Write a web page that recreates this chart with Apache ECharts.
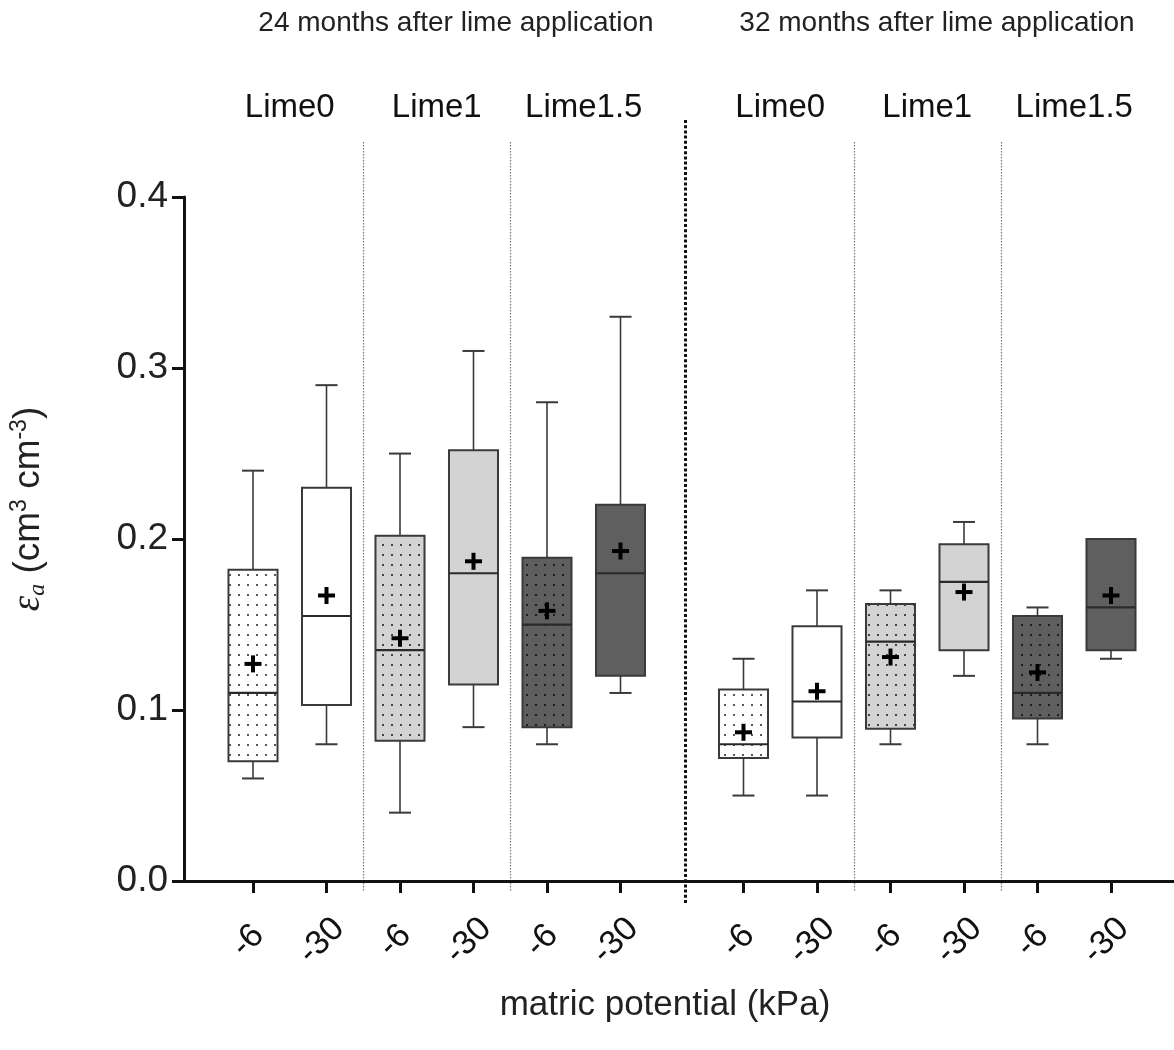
<!DOCTYPE html>
<html><head><meta charset="utf-8">
<script src="https://cdn.jsdelivr.net/npm/echarts@6/dist/echarts.min.js"></script>
<style>html,body{margin:0;padding:0;background:#fff}#chart{width:1174px;height:1050px}</style>
</head><body><div id="chart"></div>
<script>
// ---------- data ----------
const potentials = ['-6', '-30', '-6', '-30', '-6', '-30'];
const limeLevels = ['Lime0', 'Lime1', 'Lime1.5'];
const periods = ['24 months after lime application', '32 months after lime application'];
const yTicks = [0, 0.1, 0.2, 0.3, 0.4];

// 24 months after lime application
const min24  = [0.06, 0.08, 0.04, 0.09, 0.08, 0.11];
const q1_24  = [0.07, 0.103, 0.082, 0.115, 0.09, 0.12];
const med24  = [0.11, 0.155, 0.135, 0.18, 0.15, 0.18];
const q3_24  = [0.182, 0.23, 0.202, 0.252, 0.189, 0.22];
const max24  = [0.24, 0.29, 0.25, 0.31, 0.28, 0.33];
const mean24 = [0.127, 0.167, 0.142, 0.187, 0.158, 0.193];

// 32 months after lime application
const min32  = [0.05, 0.05, 0.08, 0.12, 0.08, 0.13];
const q1_32  = [0.072, 0.084, 0.089, 0.135, 0.095, 0.135];
const med32  = [0.08, 0.105, 0.14, 0.175, 0.11, 0.16];
const q3_32  = [0.112, 0.149, 0.162, 0.197, 0.155, 0.2];
const max32  = [0.13, 0.17, 0.17, 0.21, 0.16, 0.2];
const mean32 = [0.087, 0.111, 0.131, 0.169, 0.122, 0.167];

// ---------- styles ----------
function dotPattern(bg, dot) {
  const c = document.createElement('canvas');
  c.width = 9; c.height = 10;
  const g = c.getContext('2d');
  g.fillStyle = bg; g.fillRect(0, 0, 9, 10);
  g.fillStyle = dot; g.fillRect(4, 4, 2, 2);
  return { image: c, repeat: 'repeat' };
}
const LIGHT = '#d3d3d3', DARK = '#5f5f5f';
const boxFills = [
  dotPattern('#ffffff', '#555'), '#ffffff',
  dotPattern(LIGHT, '#444'), LIGHT,
  dotPattern(DARK, '#1e1e1e'), DARK
];
const FONT = '"Liberation Sans", Arial, sans-serif';

function build(mins, q1s, meds, q3s, maxs, means) {
  return mins.map((v, i) => [i, v, q1s[i], meds[i], q3s[i], maxs[i], means[i]]);
}

function renderBox(params, api) {
  const i = params.dataIndex;
  const x = api.value(0);
  const pMin = api.coord([x, api.value(1)]);
  const pQ1 = api.coord([x, api.value(2)]);
  const pMed = api.coord([x, api.value(3)]);
  const pQ3 = api.coord([x, api.value(4)]);
  const pMax = api.coord([x, api.value(5)]);
  const pMean = api.coord([x, api.value(6)]);
  const band = api.size([1, 0])[0];
  const bw = band * 0.667, cw = band * 0.3, cx = pMin[0];
  const lc = '#3a3a3a';
  const thin = { stroke: lc, lineWidth: 1.6 };
  const capS = { stroke: lc, lineWidth: 2 };
  return {
    type: 'group',
    children: [
      { type: 'line', shape: { x1: cx, y1: pQ3[1], x2: cx, y2: pMax[1] }, style: thin },
      { type: 'line', shape: { x1: cx, y1: pQ1[1], x2: cx, y2: pMin[1] }, style: thin },
      { type: 'line', shape: { x1: cx - cw / 2, y1: pMax[1], x2: cx + cw / 2, y2: pMax[1] }, style: capS },
      { type: 'line', shape: { x1: cx - cw / 2, y1: pMin[1], x2: cx + cw / 2, y2: pMin[1] }, style: capS },
      { type: 'rect', shape: { x: cx - bw / 2, y: pQ3[1], width: bw, height: pQ1[1] - pQ3[1] },
        style: { fill: boxFills[i], stroke: lc, lineWidth: 2 } },
      { type: 'line', shape: { x1: cx - bw / 2, y1: pMed[1], x2: cx + bw / 2, y2: pMed[1] },
        style: { stroke: '#2a2a2a', lineWidth: 2.2 } },
      { type: 'rect', shape: { x: pMean[0] - 8.5, y: pMean[1] - 2, width: 17, height: 4 }, style: { fill: '#000' } },
      { type: 'rect', shape: { x: pMean[0] - 2, y: pMean[1] - 8.5, width: 4, height: 17 }, style: { fill: '#000' } }
    ]
  };
}

// hidden y-range for the box grids (same pixel scale as visible axis, extended for separators)
const Y_LO = -0.0064, Y_HI = 0.4322;

function bottomAxis(gridIndex) {
  return {
    type: 'category', gridIndex, data: potentials, position: 'bottom',
    axisLine: { show: true, onZero: true, lineStyle: { color: '#111', width: 3, opacity: 0 } },
    axisTick: { show: true, alignWithLabel: true, length: 12, lineStyle: { color: '#111', width: 3 } },
    axisLabel: { interval: 0, rotate: 45, align: 'center', verticalAlign: 'middle', margin: 44,
      padding: [0, 14, 0, 0], fontSize: 34, color: '#111', fontFamily: FONT },
    splitLine: { show: false }
  };
}
function topAxis(gridIndex) {
  return {
    type: 'category', gridIndex, data: limeLevels, position: 'top',
    axisLine: { show: false, onZero: false },
    axisTick: { show: false },
    axisLabel: { interval: 0, margin: 18, fontSize: 33, color: '#111', fontFamily: FONT },
    splitLine: { show: true, interval: 0, showMinLine: false, showMaxLine: false,
      lineStyle: { color: '#777', width: 1.2, type: [1.5, 1.5] } }
  };
}
function hiddenY(gridIndex) {
  return { type: 'value', gridIndex, min: Y_LO, max: Y_HI, show: false, splitLine: { show: false } };
}

const option = {
  animation: false,
  backgroundColor: '#fff',
  textStyle: { fontFamily: FONT },
  grid: [
    { left: 216.25, width: 441, top: 142, height: 750, outerBoundsMode: 'none', containLabel: false },
    { left: 706.75, width: 441, top: 142, height: 750, outerBoundsMode: 'none', containLabel: false },
    { left: 184, width: 1000, top: 197, height: 684, outerBoundsMode: 'none', containLabel: false },
    { left: 185, width: 1000, top: 120, height: 785, outerBoundsMode: 'none', containLabel: false }
  ],
  xAxis: [
    bottomAxis(0), topAxis(0), bottomAxis(1), topAxis(1),
    { type: 'value', gridIndex: 2, min: 0, max: 1,
      axisLine: { show: true, onZero: false, lineStyle: { color: '#111', width: 3 } },
      axisTick: { show: false }, axisLabel: { show: false }, splitLine: { show: false } },
    { type: 'category', gridIndex: 3, data: periods,
      axisLine: { show: false }, axisTick: { show: false }, axisLabel: { show: false },
      splitLine: { show: true, interval: 0, showMinLine: false, showMaxLine: false,
        lineStyle: { color: '#111', width: 3, type: [3, 2.2] } } }
  ],
  yAxis: [
    hiddenY(0), hiddenY(1),
    { type: 'value', gridIndex: 2, min: yTicks[0], max: yTicks[yTicks.length - 1], interval: 0.1,
      axisLine: { show: true, onZero: false, lineStyle: { color: '#111', width: 3 } },
      axisTick: { show: true, length: 12, lineStyle: { color: '#111', width: 3 } },
      axisLabel: { fontSize: 37, color: '#222', margin: 16, fontFamily: FONT,
        formatter: v => v.toFixed(1) },
      splitLine: { show: false },
      name: '{e|ε}{s|a} {n|(cm}{p|3}{n| cm}{p|-3}{n|)}',
      nameLocation: 'middle', nameGap: 134,
      nameTextStyle: {
        color: '#222', fontSize: 37, fontFamily: FONT, padding: [0, 0, 0, 60],
        rich: {
          e: { fontSize: 39, fontStyle: 'italic', fontFamily: '"Liberation Serif", serif', color: '#222', lineHeight: 42 },
          s: { fontSize: 24, fontStyle: 'italic', fontFamily: '"Liberation Serif", serif', color: '#222', verticalAlign: 'bottom', lineHeight: 22 },
          n: { fontSize: 37, color: '#222', fontFamily: FONT, lineHeight: 42 },
          p: { fontSize: 23, color: '#222', fontFamily: FONT, verticalAlign: 'top', lineHeight: 24 }
        }
      } },
    { type: 'value', gridIndex: 3, min: 0, max: 1, show: false, splitLine: { show: false } }
  ],
  graphic: [
    { type: 'text', x: 456, y: 23, style: { text: periods[0], fontSize: 28, fontFamily: FONT, fill: '#222', align: 'center', verticalAlign: 'middle' } },
    { type: 'text', x: 937, y: 23, style: { text: periods[1], fontSize: 28, fontFamily: FONT, fill: '#222', align: 'center', verticalAlign: 'middle' } },
    { type: 'text', x: 665, y: 1005, style: { text: 'matric potential (kPa)', fontSize: 35, fontFamily: FONT, fill: '#222', align: 'center', verticalAlign: 'middle' } }
  ],
  series: [
    { type: 'custom', name: '24 months', xAxisIndex: 0, yAxisIndex: 0, renderItem: renderBox,
      encode: { x: 0, y: [1, 2, 3, 4, 5, 6] }, data: build(min24, q1_24, med24, q3_24, max24, mean24) },
    { type: 'custom', name: '32 months', xAxisIndex: 2, yAxisIndex: 1, renderItem: renderBox,
      encode: { x: 0, y: [1, 2, 3, 4, 5, 6] }, data: build(min32, q1_32, med32, q3_32, max32, mean32) }
  ]
};
const chart = echarts.init(document.getElementById('chart'), null, { renderer: 'canvas' });
chart.setOption(option);
</script></body></html>
